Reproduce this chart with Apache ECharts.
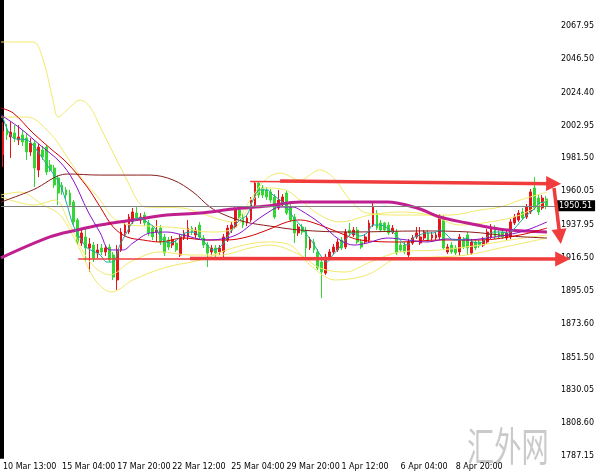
<!DOCTYPE html>
<html><head><meta charset="utf-8">
<script src="https://cdn.jsdelivr.net/npm/echarts@6/dist/echarts.min.js"></script>
<style>html,body{margin:0;padding:0;background:#fff}#c{width:598px;height:475px}</style>
</head><body><div id="c"></div>
<script>
// OHLC bars, ECharts order: [open, close, low, high]
const candles = [
[1983.7,1999.4,1975.9,2005.3],[2000.0,1996.8,1993.5,2004.0],[1995.5,1998.7,1981.8,2005.3],[1998.1,1994.8,1992.2,2003.3],
[1993.5,1995.5,1990.2,2003.3],[1996.8,1992.2,1989.6,2000.0],[1994.8,1985.7,1980.4,1997.4],[1985.7,1991.5,1983.1,1994.8],
[1991.5,1975.2,1962.8,1993.5],[1973.9,1988.9,1969.3,1990.9],[1987.0,1982.4,1980.4,1989.6],[1988.9,1972.6,1970.6,1990.2],
[1977.2,1973.9,1972.6,1980.4],[1975.2,1964.1,1962.2,1977.2],[1968.7,1958.9,1951.0,1970.6],[1964.1,1959.6,1957.6,1966.1],
[1960.9,1957.6,1955.0,1962.8],[1958.9,1951.0,1949.7,1960.9],[1953.0,1940.0,1938.0,1954.3],[1941.3,1926.9,1924.9,1942.6],
[1926.2,1932.8,1924.3,1934.7],[1930.2,1923.0,1913.8,1936.0],[1923.0,1925.6,1907.3,1929.5],[1924.9,1916.5,1913.8,1926.9],
[1919.7,1921.7,1916.5,1925.6],[1923.0,1920.4,1918.4,1925.6],[1920.4,1923.0,1917.8,1924.9],[1923.6,1915.1,1913.8,1925.6],
[1918.4,1904.0,1902.1,1920.4],[1902.1,1921.7,1895.6,1924.9],[1921.7,1933.4,1920.4,1936.0],[1932.8,1938.0,1930.8,1940.0],
[1933.4,1943.2,1932.1,1945.2],[1940.0,1946.5,1938.7,1949.1],[1945.8,1942.6,1941.3,1949.7],[1941.3,1943.2,1938.7,1945.8],
[1944.5,1939.3,1937.3,1946.5],[1939.3,1932.8,1930.8,1941.3],[1936.0,1930.2,1928.2,1938.0],[1933.4,1934.7,1926.9,1941.3],
[1936.0,1926.9,1924.9,1938.0],[1930.2,1919.7,1917.8,1932.1],[1928.2,1923.6,1921.7,1930.2],[1924.9,1928.2,1923.0,1930.8],
[1926.2,1921.7,1920.4,1928.2],[1918.4,1930.2,1917.1,1932.1],[1929.5,1932.8,1928.2,1934.7],[1930.2,1936.0,1928.2,1941.3],
[1936.0,1933.4,1931.5,1937.3],[1931.5,1934.7,1929.5,1936.7],[1938.0,1930.2,1928.2,1940.0],[1929.5,1924.9,1923.0,1931.5],
[1924.9,1919.7,1910.6,1926.9],[1920.4,1923.0,1918.4,1924.9],[1923.0,1919.7,1915.8,1924.9],[1920.4,1923.0,1918.4,1924.9],
[1920.4,1930.2,1916.5,1932.1],[1928.2,1936.0,1926.9,1938.0],[1934.7,1938.0,1932.8,1940.0],[1936.7,1947.8,1935.4,1949.7],
[1947.8,1942.6,1941.3,1949.7],[1943.2,1938.0,1936.0,1945.2],[1939.3,1942.6,1937.3,1944.5],[1941.3,1954.3,1940.0,1956.3],
[1951.0,1965.4,1949.7,1966.1],[1965.4,1957.6,1955.6,1966.1],[1962.2,1957.6,1955.6,1964.1],[1960.9,1956.3,1954.3,1962.8],
[1959.6,1954.3,1952.4,1961.5],[1956.3,1943.2,1941.9,1958.2],[1949.1,1954.3,1947.8,1960.9],[1952.4,1956.3,1950.4,1958.2],
[1958.9,1945.8,1944.5,1960.9],[1949.7,1941.3,1940.0,1951.7],[1943.2,1932.8,1926.2,1945.2],[1932.8,1936.7,1930.8,1938.7],
[1936.7,1933.4,1931.5,1938.7],[1934.7,1923.0,1916.5,1936.7],[1923.0,1928.2,1921.7,1930.2],[1926.9,1921.7,1919.7,1928.9],
[1920.4,1909.9,1908.6,1922.3],[1913.8,1907.3,1890.3,1915.8],[1906.6,1917.1,1905.4,1919.1],[1916.5,1920.4,1915.1,1922.3],
[1920.4,1923.6,1919.1,1925.6],[1921.7,1926.9,1920.4,1928.9],[1928.2,1923.0,1921.7,1930.2],[1923.6,1933.4,1922.3,1935.4],
[1934.7,1932.8,1930.8,1939.3],[1931.5,1934.7,1930.2,1936.7],[1934.7,1926.9,1925.6,1936.7],[1926.9,1923.6,1922.3,1928.9],
[1926.9,1930.2,1925.6,1932.1],[1928.2,1939.3,1926.9,1941.3],[1938.0,1949.7,1936.7,1952.4],[1945.8,1936.0,1934.7,1947.8],
[1939.3,1934.7,1933.4,1941.3],[1939.3,1934.7,1933.4,1940.0],[1938.0,1932.8,1931.5,1940.0],[1933.4,1936.0,1932.1,1938.0],
[1933.4,1919.7,1918.4,1935.4],[1924.9,1921.7,1920.4,1926.9],[1924.9,1920.4,1919.1,1926.9],[1918.4,1926.9,1917.1,1928.9],
[1926.2,1929.5,1924.9,1931.5],[1930.2,1932.8,1928.9,1936.7],[1926.2,1930.2,1924.9,1936.7],[1929.5,1933.4,1928.2,1934.7],
[1932.8,1928.2,1926.9,1934.7],[1929.5,1931.5,1928.2,1933.4],[1929.5,1931.5,1928.2,1933.4],[1930.2,1943.2,1928.2,1945.2],
[1942.6,1923.0,1921.7,1944.5],[1920.4,1923.6,1919.1,1925.6],[1924.9,1920.4,1919.1,1926.9],[1923.0,1919.7,1918.4,1924.9],
[1920.4,1930.2,1917.8,1932.1],[1928.2,1923.6,1922.3,1930.2],[1931.5,1923.0,1918.4,1933.4],[1919.7,1926.9,1918.4,1928.9],
[1926.9,1923.0,1921.7,1928.9],[1926.9,1924.9,1923.0,1928.2],[1924.9,1928.2,1923.6,1930.2],[1926.9,1933.4,1925.6,1935.4],
[1930.2,1936.7,1928.9,1938.7],[1936.0,1930.2,1928.9,1938.0],[1932.8,1930.2,1928.9,1934.7],[1933.4,1930.2,1928.9,1934.7],
[1929.5,1932.8,1928.2,1934.7],[1930.2,1940.0,1928.9,1941.9],[1939.3,1943.2,1938.0,1945.2],[1941.3,1945.8,1940.0,1947.8],
[1946.5,1942.6,1941.3,1949.1],[1943.2,1949.7,1941.9,1951.7],[1946.5,1959.6,1945.2,1961.5],[1962.2,1949.1,1947.8,1969.3],
[1955.6,1946.5,1944.5,1957.6],[1949.1,1955.6,1947.8,1957.6],[1955.0,1950.5,1948.4,1956.9]
];
const barCount = 141;              // visible bar slots incl. right shift
const lastPrice = 1950.51;
const xTickIndex = [0, 15, 29, 43, 58, 72, 86, 101, 115];
const xTickLabels = ['10 Mar 13:00','15 Mar 04:00','17 Mar 20:00','22 Mar 12:00','25 Mar 04:00','29 Mar 20:00','1 Apr 12:00','6 Apr 04:00','8 Apr 20:00'];
const yTicks = [1787.15,1808.60,1830.05,1851.50,1873.60,1895.05,1916.50,1937.95,1960.05,1981.50,2002.95,2024.40,2046.50,2067.95];
const yMin = 1785.84, yMax = 2084.93;

// indicator lines as [barIndex, price]
const ma5 = [[0,2007.9],[2.6,1994.8],[6.1,1993.5],[7.6,1990.2],[11.2,1977.2],[14.5,1964.1],[16.3,1951.0],[17.8,1938.0],[19.6,1929.5],[21.4,1923.0],[23.4,1920.4],[24.7,1918.4],[26.4,1913.8],[27.9,1913.8],[29.7,1924.9],[31.5,1933.4],[33.0,1940.0],[34.8,1942.6],[36.6,1940.0],[38.6,1936.0],[40.7,1928.2],[42.4,1926.2],[44.2,1928.2],[46.3,1932.8],[48.3,1933.4],[50.1,1930.2],[51.8,1924.9],[53.4,1921.7],[55.1,1923.6],[56.9,1929.5],[58.4,1936.0],[60.2,1941.3],[62.0,1944.5],[63.5,1954.3],[65.3,1960.9],[67.1,1960.9],[68.6,1957.6],[70.4,1954.3],[72.2,1949.7],[73.7,1943.2],[75.5,1938.0],[77.2,1931.5],[78.8,1926.2],[80.6,1918.4],[82.3,1913.8],[83.8,1918.4],[85.6,1923.6],[87.4,1929.5],[88.9,1932.8],[90.7,1930.8],[92.5,1932.8],[94.0,1938.0],[95.8,1938.0],[97.6,1936.0],[99.1,1933.4],[100.9,1928.2],[102.7,1924.9],[104.2,1929.5],[105.9,1931.5],[107.7,1932.8],[109.3,1932.8],[111.0,1934.7],[112.8,1931.5],[114.3,1928.2],[116.1,1928.2],[117.9,1929.5],[119.4,1926.9],[121.2,1926.2],[123.0,1930.2],[124.5,1933.4],[126.3,1933.4],[128.1,1932.8],[129.6,1934.7],[131.4,1940.0],[133.1,1944.5],[134.7,1947.8],[136.4,1952.4],[138.2,1953.0]];
const ma10 = [[-0.5,2009.8],[4.3,2001.3],[9.4,1990.2],[14.5,1979.1],[17.8,1967.4],[21.4,1947.8],[24.7,1932.8],[27.2,1921.7],[30.5,1921.7],[33.0,1926.2],[37.4,1932.8],[41.7,1933.4],[45.7,1931.5],[51.8,1928.2],[56.9,1929.5],[60.2,1932.8],[63.5,1939.3],[67.1,1945.8],[70.4,1949.7],[73.7,1949.7],[75.5,1947.8],[80.5,1939.3],[85.6,1928.2],[89.2,1924.9],[92.5,1926.2],[97.6,1929.5],[102.7,1928.2],[107.7,1926.9],[112.8,1928.9],[117.9,1928.2],[123.0,1929.5],[128.1,1931.5],[133.1,1934.7],[138.2,1940.0]];
const ma20 = [[-0.5,2014.4],[2.6,2011.1],[7.6,1998.1],[11.9,1988.3],[16.3,1978.5],[21.4,1962.8],[24.7,1949.7],[28.0,1936.7],[31.5,1930.2],[35.6,1928.2],[39.9,1926.9],[45.7,1929.5],[51.8,1928.2],[56.9,1928.2],[62.0,1930.2],[67.1,1934.7],[72.2,1940.0],[75.5,1941.3],[80.5,1938.0],[85.6,1932.8],[90.7,1928.2],[100.9,1926.9],[111.0,1928.2],[121.2,1928.2],[131.4,1931.5],[138.2,1936.0]];
const ma60 = [[-0.5,1953.0],[7.6,1960.9],[16.3,1971.3],[24.7,1970.6],[37.4,1970.6],[43.2,1967.4],[48.3,1959.5],[52.6,1949.7],[56.4,1944.5],[61.5,1940.0],[67.8,1937.3],[75.5,1934.7],[88.2,1933.4],[106.0,1934.1],[118.7,1933.4],[128.8,1930.8],[138.2,1929.5]];
const ma120 = [[-0.5,1916.5],[11.9,1930.2],[18.8,1934.7],[24.7,1938.0],[33.0,1941.3],[41.7,1944.5],[50.1,1945.8],[58.4,1948.4],[67.1,1950.4],[75.5,1953.0],[83.8,1953.0],[97.6,1953.0],[105.2,1949.1],[111.0,1943.2],[117.9,1939.3],[123.0,1936.7],[128.1,1934.7],[138.2,1933.4]];
const bbOuterUp = [[-0.5,2057.5],[7.6,2057.5],[10.2,2045.8],[12.7,2019.6],[14.0,2008.5],[16.3,2013.1],[19.6,2019.6],[22.1,2015.1],[24.7,2002.0],[28.0,1985.0],[31.5,1967.4],[34.1,1954.3],[36.1,1949.8],[45.7,1949.1],[50.1,1945.8],[58.4,1940.0],[62.8,1954.3],[66.6,1967.4],[70.4,1971.9],[75.5,1967.4],[80.5,1973.9],[83.8,1969.3],[88.2,1954.3],[92.5,1945.8],[100.9,1944.5],[113.6,1944.5],[121.2,1947.8],[126.3,1949.7],[131.4,1954.3],[138.2,1959.5]];
const bbOuterLo = [[-0.5,1957.6],[4.3,1959.5],[10.2,1951.0],[14.5,1944.5],[19.6,1921.7],[23.4,1902.1],[27.7,1894.2],[33.0,1902.1],[41.7,1910.6],[50.1,1915.1],[58.4,1923.0],[67.1,1926.9],[72.9,1924.9],[78.0,1911.9],[84.4,1902.1],[92.5,1905.4],[100.9,1916.5],[109.3,1917.1],[117.9,1918.4],[126.3,1923.0],[138.2,1929.5]];
const bbInnerUp = [[-0.5,2008.5],[6.1,2008.5],[11.9,1998.1],[16.3,1982.4],[20.3,1967.4],[24.7,1954.3],[28.0,1942.6],[32.3,1938.0],[37.4,1937.3],[45.0,1936.0],[52.6,1933.4],[58.9,1936.0],[62.8,1951.0],[66.6,1962.2],[71.7,1960.9],[75.5,1954.3],[80.5,1944.5],[85.6,1940.0],[93.3,1944.5],[100.9,1946.5],[108.5,1944.5],[116.1,1938.0],[123.7,1940.0],[131.4,1944.5],[138.2,1954.3]];
const bbInnerLo = [[-0.5,1956.3],[8.1,1951.0],[13.2,1954.3],[17.0,1938.0],[22.1,1913.8],[27.2,1905.4],[32.3,1913.8],[39.9,1920.4],[47.5,1918.4],[55.1,1918.4],[62.8,1923.0],[67.8,1924.9],[75.5,1918.4],[80.5,1909.9],[86.9,1907.3],[93.3,1913.8],[100.9,1920.4],[111.0,1921.7],[121.2,1924.9],[128.8,1928.2],[138.2,1931.5]];

// hand-drawn annotations: [[fromIndex, fromPrice], [toIndex, toPrice]]
const thinLines = [[[62.8,1966.4],[139.5,1965.4]], [[19.1,1916.1],[141.5,1916.1]]];
const arrows = [[[70.4,1966.7],[139.9,1965.0]], [[47.5,1916.1],[142.2,1915.8]], [[140.0,1962.2],[141.5,1930.5]]];

const categories = Array.from({length: barCount}, (_, i) => String(i));
const FONT = 'DejaVu Sans';
const chart = echarts.init(document.getElementById('c'), null, {renderer: 'canvas'});

function lineSeries(data, color, width) {
  return {type: 'line', xAxisIndex: 1, yAxisIndex: 0, data: data, smooth: 0.35, symbol: 'none',
    silent: true, z: 4, lineStyle: {color: color, width: width}};
}

chart.setOption({
  animation: false,
  backgroundColor: '#ffffff',
  grid: {left: 1, right: 42, top: 0, bottom: 17, containLabel: false},
  xAxis: [
    {type: 'category', data: categories, boundaryGap: true, gridIndex: 0,
     axisLine: {show: false}, axisTick: {show: false}, splitLine: {show: false},
     axisLabel: {interval: (i) => xTickIndex.indexOf(i) >= 0,
       formatter: (v, i) => xTickLabels[xTickIndex.indexOf(i)] || '',
       align: 'left', margin: 5, fontFamily: FONT, fontSize: 8, color: '#000'}},
    {type: 'value', min: -0.5, max: barCount - 0.5, show: false, gridIndex: 0}
  ],
  yAxis: [
    {type: 'value', position: 'right', offset: 41, min: yMin, max: yMax, scale: true,
     splitLine: {show: false}, axisTick: {show: false},
     axisLine: {show: true, lineStyle: {color: '#000', width: 2}},
     axisLabel: {inside: true, margin: 3, customValues: yTicks, formatter: (v) => v.toFixed(2),
       fontFamily: FONT, fontSize: 8, color: '#000'}},
    {type: 'value', position: 'left', min: yMin, max: yMax, scale: true,
     splitLine: {show: false}, axisTick: {show: false}, axisLabel: {show: false},
     axisLine: {show: true, lineStyle: {color: '#000', width: 2}}}
  ],
  graphic: [{type: 'text', x: 467, y: 426, scaleX: 0.68, silent: true, z: 0,
    style: {text: '汇外网', font: '40px "Noto Sans CJK SC"', fill: 'rgba(150,150,150,0.5)'}}],
  series: [
    {type: 'candlestick', xAxisIndex: 0, yAxisIndex: 0, data: candles, barWidth: 2.3, z: 3,
     itemStyle: {color: '#e3161b', color0: '#33d633', borderColor: '#e3161b', borderColor0: '#33d633', borderWidth: 1},
     markLine: {silent: true, symbol: 'none', animation: false,
       lineStyle: {color: '#808080', width: 1, type: 'solid'},
       label: {position: 'end', distance: 0, formatter: lastPrice.toFixed(2), backgroundColor: '#000',
         color: '#fff', padding: [2, 3, 1, 3], fontFamily: FONT, fontSize: 8},
       data: [{yAxis: lastPrice}]}},
    lineSeries(bbOuterUp, '#f2ea6a', 1),
    lineSeries(bbOuterLo, '#f2ea6a', 1),
    lineSeries(bbInnerUp, '#f2ea6a', 1),
    lineSeries(bbInnerLo, '#f2ea6a', 1),
    lineSeries(ma60, '#8b1c1c', 1),
    lineSeries(ma120, '#c0208f', 3),
    lineSeries(ma20, '#d40000', 1),
    lineSeries(ma10, '#8a10c8', 1),
    lineSeries(ma5, '#1aa8a8', 1),
    {type: 'lines', coordinateSystem: 'cartesian2d', xAxisIndex: 1, yAxisIndex: 0, clip: false, silent: true, z: 6,
     symbol: 'none', lineStyle: {color: '#f03c3c', width: 1.6, opacity: 1},
     data: thinLines.map(c => ({coords: c}))},
    {type: 'lines', coordinateSystem: 'cartesian2d', xAxisIndex: 1, yAxisIndex: 0, clip: false, silent: true, z: 7,
     symbol: ['none', 'triangle'], symbolSize: [1, 15], lineStyle: {color: '#f03c3c', width: 3.5, opacity: 1},
     data: arrows.map(c => ({coords: c}))}
  ]
});
</script>
</body></html>
